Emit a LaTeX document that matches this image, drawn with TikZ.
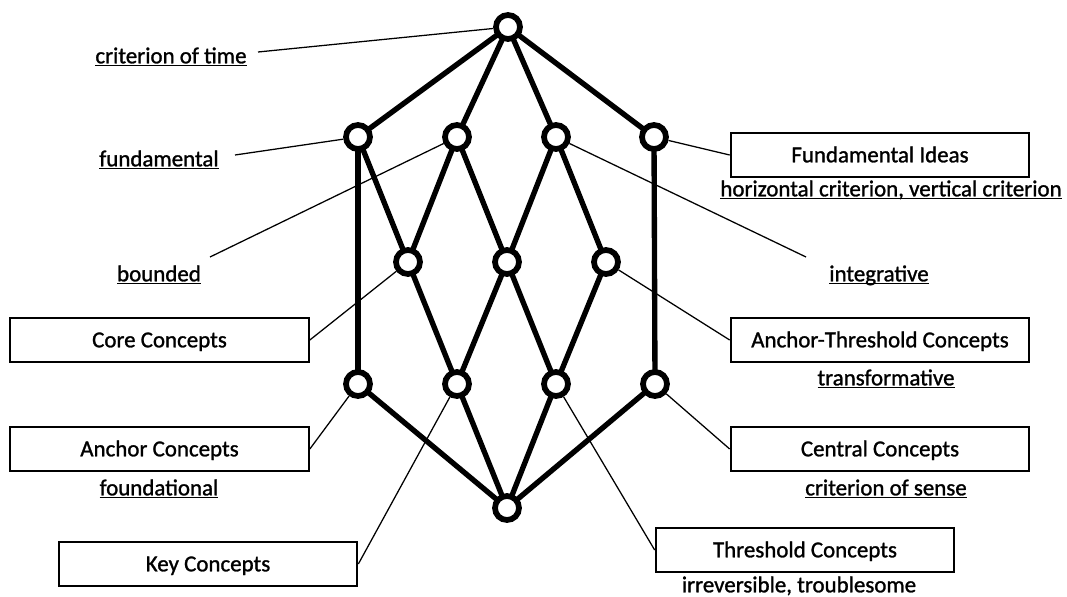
\documentclass[tikz,border=0pt]{standalone}
\usepackage{fontspec}
\setmainfont{Carlito}[BoldFont=Carlito,BoldFeatures={FakeBold=1.2}]
\usetikzlibrary{backgrounds}
\newcommand{\ulabel}[1]{\underline{\smash{#1}}}
\begin{document}
\begin{tikzpicture}[x=0.75pt,y=-0.75pt,
  every node/.style={font=\fontsize{17.2}{20}\selectfont\bfseries},
  vtx/.style={circle,draw,line width=4.3pt,fill=white,minimum size=18pt,inner sep=0pt},
  edge/.style={line width=4pt},
  lead/.style={line width=0.95pt},
  lbox/.style={draw,line width=1.5pt,minimum width=224pt,minimum height=33pt,inner sep=0pt,text height=11pt,text depth=0pt},
  ulab/.style={inner sep=0pt,text height=11pt,text depth=0pt}]
\useasboundingbox (0,0) rectangle (1067,596);
% lattice vertices
\node[vtx] (t) at (508,27) {};
\node[vtx] (a1) at (358,137) {};
\node[vtx] (b1) at (457,137) {};
\node[vtx] (c1) at (556,137) {};
\node[vtx] (d1) at (654,137) {};
\node[vtx] (a2) at (408,262) {};
\node[vtx] (b2) at (507,262) {};
\node[vtx] (c2) at (606,262) {};
\node[vtx] (a3) at (358,384) {};
\node[vtx] (b3) at (457,384) {};
\node[vtx] (c3) at (556,384) {};
\node[vtx] (d3) at (655,384) {};
\node[vtx] (bt) at (507,508) {};
\begin{pgfonlayer}{background}
\foreach \u/\v in {t/a1,t/b1,t/c1,t/d1,a1/a3,a1/a2,b1/a2,b1/b2,c1/b2,c1/c2,d1/d3,a2/b3,b2/b3,b2/c3,c2/c3,a3/bt,b3/bt,c3/bt,d3/bt}
  \draw[edge] (\u.center) -- (\v.center);
\end{pgfonlayer}
% boxes
\node[lbox] (fi) at (880,155) {Fundamental Ideas};
\node[lbox] (cc) at (159.5,340) {Core Concepts};
\node[lbox] (atc) at (880,340) {Anchor-Threshold Concepts};
\node[lbox] (ac) at (159.5,449) {Anchor Concepts};
\node[lbox] (cen) at (880,449) {Central Concepts};
\node[lbox] (kc) at (208,564) {Key Concepts};
\node[lbox] (tc) at (805,550) {Threshold Concepts};
% underlined labels
\node[ulab] (lt) at (171,56) {\ulabel{criterion of time}};
\node[ulab] (lf) at (159,159) {\ulabel{fundamental}};
\node[ulab] (lb) at (159,274) {\ulabel{bounded}};
\node[ulab] (li) at (879,274) {\ulabel{integrative}};
\node[ulab] (lh) at (891,189) {\ulabel{horizontal criterion, vertical criterion}};
\node[ulab] (ltr) at (886,378) {\ulabel{transformative}};
\node[ulab] (lfo) at (159,488) {\ulabel{foundational}};
\node[ulab] (lcs) at (886,488) {\ulabel{criterion of sense}};
\node[ulab] (lir) at (799,585) {irreversible, troublesome};
% leader line free ends
\coordinate (et) at (258,52);
\coordinate (ef) at (235,155);
\coordinate (eb) at (210,257);
\coordinate (ei) at (806,257);
% leader lines
\draw[lead] (et) -- (t);
\draw[lead] (ef) -- (a1);
\draw[lead] (eb) -- (b1);
\draw[lead] (c1) -- (ei);
\draw[lead] (fi.west) -- (d1);
\draw[lead] (cc.east) -- (a2);
\draw[lead] (atc.west) -- (c2);
\draw[lead] (ac.east) -- (a3);
\draw[lead] (cen.west) -- (d3);
\draw[lead] (kc.east) -- (b3);
\draw[lead] (tc.west) -- (c3);
\end{tikzpicture}
\end{document}
